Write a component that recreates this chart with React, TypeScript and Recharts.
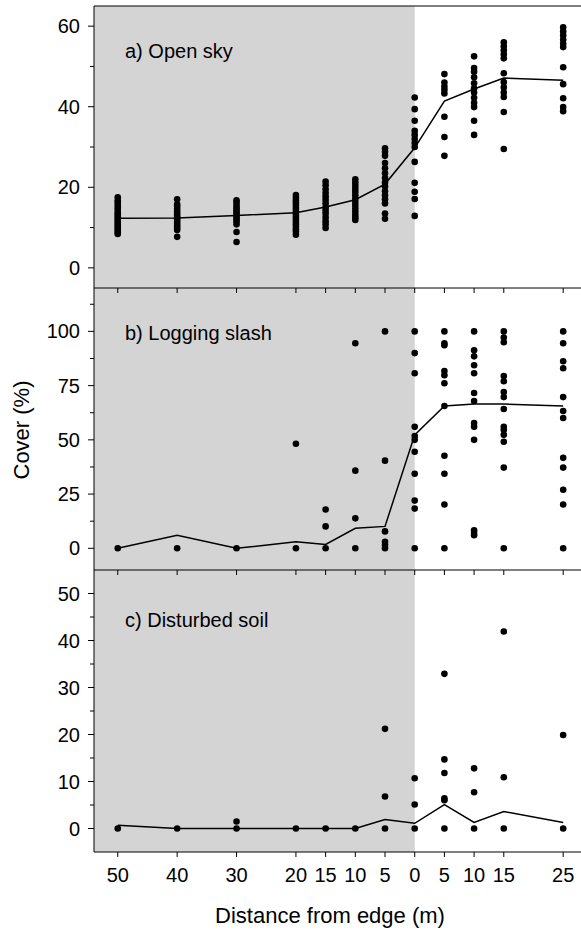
import React from 'react'
import { ComposedChart, Scatter, Line, XAxis, YAxis, ReferenceArea, ReferenceLine } from 'recharts'

// signed distance from edge: negative = interior (forest), positive = cut side
const distances = [-50, -40, -30, -20, -15, -10, -5, 0, 5, 10, 15, 25]

const openSkyMean = [12.3, 12.4, 13.0, 13.7, 15.1, 16.9, 20.8, 29.8, 41.4, 44.4, 47.1, 46.6]
const openSkyPoints = [
    [17.5, 16.8, 16.2, 15.6, 15, 14.4, 13.8, 13.3, 12.8, 12.3, 11.8, 11.3, 10.8, 10.3, 9.8, 9.3, 8.8, 8.4],
    [17, 15.8, 15.2, 14.6, 14, 13.4, 12.9, 12.4, 11.9, 11.4, 10.9, 10.4, 9.9, 9.4, 7.7],
    [16.8, 16.2, 15.6, 15, 14.5, 14, 13.5, 13, 12.5, 12, 11.5, 10.8, 8.9, 6.4],
    [18.1, 17.4, 16.8, 16.2, 15.6, 15, 14.4, 13.8, 13.2, 12.6, 12, 11.4, 10.8, 10.2, 9.6, 9, 8.2],
    [21.4, 20.5, 19.5, 18.6, 17.7, 16.9, 16, 15, 14.2, 13.4, 12.5, 11.6, 10.8, 9.9],
    [22, 21.2, 20.4, 19.6, 18.8, 18, 17.2, 16.4, 15.6, 14.8, 14, 13.2, 12.5, 11.9],
    [29.7, 28.8, 27.8, 26, 24.7, 23.5, 22.3, 21.2, 20.2, 19, 18, 17, 16, 13.5, 12.2],
    [42.3, 39.4, 36.5, 34, 33, 32, 31, 30, 26.3, 21.1, 18.9, 17.1, 12.9],
    [48.1, 46, 45, 44.2, 43.3, 37.5, 32.5, 27.8],
    [52.5, 49.6, 48.7, 47.3, 45.8, 44.6, 43.5, 42.2, 41, 39.9, 36.5, 33],
    [56, 55, 54, 53, 52, 48.3, 46.1, 44.8, 43.5, 42.4, 38.7, 29.5],
    [59.7, 58.7, 57.7, 56.6, 55.6, 54.8, 49.8, 45.6, 42.1, 39.9, 38.9],
]

const slashMean = [0, 6, 0, 3, 1.8, 9.2, 10.1, 52.3, 65.6, 66.5, 66.5, 65.6]
const slashPoints = [
    [0],
    [0],
    [0],
    [48.2, 0],
    [17.9, 10.1, 0],
    [94.5, 35.8, 13.8, 0],
    [100, 40.4, 7.8, 3, 1.5, 0],
    [100, 90, 80.7, 56, 51.8, 50, 44.5, 34.4, 22, 18.3, 0],
    [100, 94.5, 93.6, 81.7, 79.8, 76.1, 65.6, 42.7, 34.4, 20.2, 0],
    [100, 91.3, 88.5, 84.4, 80.7, 71.6, 67.9, 57.8, 56, 50, 8.3, 7, 6],
    [100, 97.2, 95, 79.4, 77, 72, 69.7, 64.2, 56, 54.6, 52.3, 49.1, 37.2, 0],
    [100, 94.5, 86.2, 83, 69.7, 63.3, 60.1, 41.7, 37.2, 27, 20.2, 0],
]

const soilMean = [0.7, 0, 0, 0, 0, 0, 1.9, 1.1, 5.1, 1.3, 3.6, 1.3]
const soilPoints = [
    [0],
    [0],
    [1.5, 0],
    [0],
    [0],
    [0],
    [21.2, 6.8, 0],
    [10.7, 5.1, 0],
    [32.9, 14.7, 11.8, 6.4, 6, 0],
    [12.8, 7.7, 0],
    [41.9, 10.9, 0],
    [19.9, 0],
]

const FONT = '"Liberation Sans", Arial, sans-serif'
const AXIS_X = 94
const X_DOMAIN: [number, number] = [-54, 28]

const toPoints = (pts: number[][]) => distances.flatMap((d, i) => pts[i].map((v) => ({ x: d, y: v })))
const toLine = (means: number[]) => distances.map((d, i) => ({ x: d, y: means[i] }))

const Dot = (props: any) => <circle cx={props.cx} cy={props.cy} r={3.3} fill="#000" />

const makeYTick = (majors: number[]) => (props: any) => {
    const { y, payload } = props
    const major = majors.includes(payload.value)
    return (
        <g>
            <line x1={AXIS_X - (major ? 6 : 4)} x2={AXIS_X} y1={y} y2={y} stroke="#000" />
            {major && (
                <text x={80} y={y} dy="0.35em" textAnchor="end" fontSize={20} fontFamily={FONT} fill="#000">
                    {payload.value}
                </text>
            )}
        </g>
    )
}

type PanelProps = {
    top: number
    height: number
    marginTop: number
    xHeight: number
    domain: [number, number]
    majors: number[]
    minors: number[]
    points: { x: number; y: number }[]
    line: { x: number; y: number }[]
    showLabels?: boolean
    topBorder?: boolean
    zIndex: number
}

const Panel: React.FC<PanelProps> = (p) => (
    <div style={{ position: 'absolute', left: 0, top: p.top, zIndex: p.zIndex }}>
        <ComposedChart width={581} height={p.height} margin={{ top: p.marginTop, right: 0, bottom: 0, left: 0 }}>
            <XAxis
                type="number"
                dataKey="x"
                domain={X_DOMAIN}
                ticks={distances}
                interval={0}
                allowDataOverflow
                height={p.xHeight}
                tickSize={5}
                tickMargin={11}
                axisLine={{ stroke: '#000' }}
                tickLine={{ stroke: '#000' }}
                tick={{ fill: '#000', fontSize: 20, fontFamily: FONT }}
                tickFormatter={p.showLabels ? (v: number) => String(Math.abs(v)) : () => ''}
            />
            <YAxis
                type="number"
                dataKey="y"
                domain={p.domain}
                ticks={[...p.majors, ...p.minors]}
                interval={0}
                allowDataOverflow
                width={AXIS_X}
                axisLine={{ stroke: '#000' }}
                tickLine={false}
                tick={makeYTick(p.majors)}
            />
            <ReferenceArea x1={X_DOMAIN[0]} x2={0} y1={p.domain[0]} y2={p.domain[1]} fill="#d4d4d4" fillOpacity={1} stroke="none" />
            {p.topBorder && <ReferenceLine y={p.domain[1]} stroke="#000" />}
            <Line data={p.line} dataKey="y" type="linear" stroke="#000" strokeWidth={1.5} dot={false} isAnimationActive={false} />
            <Scatter data={p.points} dataKey="y" shape={Dot} isAnimationActive={false} />
        </ComposedChart>
    </div>
)

const App: React.FC = () => {
    return (
        <div style={{ position: 'absolute', left: 0, top: 0, width: 581, height: 930, background: '#fff', overflow: 'hidden' }}>
            <Panel
                top={0}
                height={294}
                marginTop={6}
                xHeight={6}
                domain={[-5, 65]}
                majors={[0, 20, 40, 60]}
                minors={[10, 30, 50]}
                points={toPoints(openSkyPoints)}
                line={toLine(openSkyMean)}
                topBorder
                zIndex={3}
            />
            <Panel
                top={288}
                height={288}
                marginTop={0}
                xHeight={6}
                domain={[-10, 120]}
                majors={[0, 25, 50, 75, 100]}
                minors={[12.5, 37.5, 62.5, 87.5, 112.5]}
                points={toPoints(slashPoints)}
                line={toLine(slashMean)}
                zIndex={2}
            />
            <Panel
                top={570}
                height={360}
                marginTop={0}
                xHeight={78}
                domain={[-5, 55]}
                majors={[0, 10, 20, 30, 40, 50]}
                minors={[5, 15, 25, 35, 45]}
                points={toPoints(soilPoints)}
                line={toLine(soilMean)}
                showLabels
                zIndex={1}
            />
            <svg width={581} height={930} style={{ position: 'absolute', left: 0, top: 0, zIndex: 4, pointerEvents: 'none' }}>
                <g fontFamily={FONT} fill="#000">
                    <text x={125} y={58} fontSize={20}>a) Open sky</text>
                    <text x={125} y={340} fontSize={20}>b) Logging slash</text>
                    <text x={125} y={627} fontSize={20}>c) Disturbed soil</text>
                    <text transform="translate(29,430) rotate(-90)" textAnchor="middle" fontSize={22}>Cover (%)</text>
                    <text x={330} y={923} textAnchor="middle" fontSize={22}>Distance from edge (m)</text>
                </g>
            </svg>
        </div>
    )
}

export default App
